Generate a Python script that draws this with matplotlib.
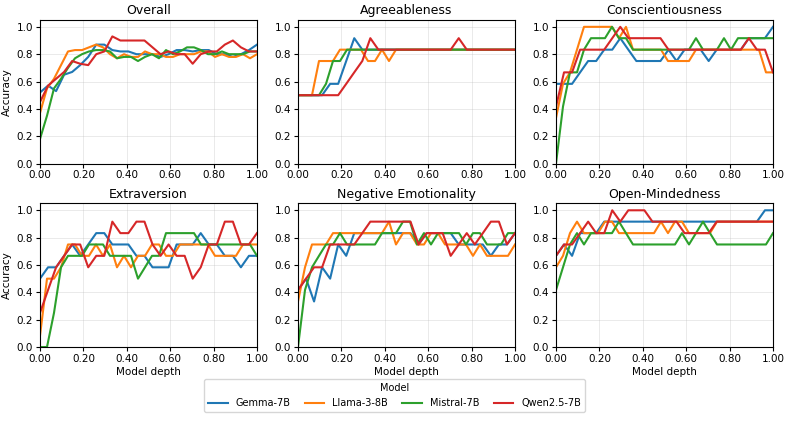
import numpy as np
import matplotlib
matplotlib.use("Agg")
import matplotlib.pyplot as plt

MODELS = ["Gemma-7B", "Llama-3-8B", "Mistral-7B", "Qwen2.5-7B"]
COLORS = ["#1f77b4", "#ff7f0e", "#2ca02c", "#d62728"]
N_LAYERS = {"Gemma-7B": 28, "Llama-3-8B": 32, "Mistral-7B": 32, "Qwen2.5-7B": 28}
TRAITS = ["Overall", "Agreeableness", "Conscientiousness",
          "Extraversion", "Negative Emotionality", "Open-Mindedness"]

a, b, c, d, e, f, g = 0.25, 0.333, 0.417, 0.5, 0.583, 0.667, 0.75
h, k, one = 0.833, 0.917, 1.0

overall_gemma = [0.52, 0.57, 0.53, 0.65, 0.67, 0.72, 0.78, 0.87, 0.87, 0.83, 0.82, 0.82, 0.80, 0.80,
                 0.80, 0.78, 0.80, 0.83, 0.83, 0.82, 0.83, 0.83, 0.80, 0.80, 0.78, 0.80, 0.83, 0.87]
overall_llama = [0.37, 0.55, 0.62, 0.72, 0.82, 0.83, 0.83, 0.85, 0.87, 0.85, 0.80, 0.77, 0.80, 0.78,
                 0.78, 0.82, 0.80, 0.80, 0.78, 0.78, 0.80, 0.80, 0.80, 0.82, 0.82, 0.78, 0.80, 0.78,
                 0.78, 0.80, 0.77, 0.80]
overall_mistral = [0.18, 0.35, 0.55, 0.62, 0.70, 0.77, 0.80, 0.82, 0.83, 0.83, 0.82, 0.77, 0.78, 0.78,
                   0.75, 0.78, 0.80, 0.77, 0.83, 0.80, 0.82, 0.85, 0.85, 0.83, 0.80, 0.80, 0.82, 0.80,
                   0.80, 0.80, 0.82, 0.82]
overall_qwen = [0.45, 0.57, 0.62, 0.67, 0.75, 0.73, 0.72, 0.80, 0.82, 0.93, 0.90, 0.90, 0.90, 0.90,
                0.85, 0.80, 0.82, 0.80, 0.80, 0.73, 0.80, 0.82, 0.82, 0.87, 0.90, 0.85, 0.82, 0.82]

agree_gemma = [d, d, d, d, e, e, g, k] + [h] * 20
agree_llama = [d, d, d, g, g, g, h, h, h, h, g, g, h, g] + [h] * 18
agree_mistral = [d, d, d, d, e, g, g] + [h] * 25
agree_qwen = [d, d, d, d, d, d, e, f, g, k] + [h] * 10 + [k] + [h] * 7

consc_gemma = [e, e, e, f, g, g, h, h, k, h, g, g, g, g, h, g, h, h, h, g, h, h, h, h, k, k, k, one]
consc_llama = [b, e, f, h, one, one, one, one, one, k, one, h, h, h, h, h, g, g, g, g,
               h, h, h, h, h, h, h, h, h, h, f, f]
consc_mistral = [0.0, c, f, f, h, k, k, k, one, k, k, h, h, h, h, h, h, h, h, h,
                 k, h, h, h, k, h, k, k, k, k, k, k]
consc_qwen = [c, f, f, h, h, h, h, k, one, k, k, k, k, k, h, h, h, h, h, h, h, h, h, h, k, h, h, f]

extra_gemma = [d, e, e, f, g, f, g, h, h, g, g, g, f, f, e, e, e, g, g, g, h, g, g, f, f, e, f, f]
extra_llama = [0.083, d, d, e, g, g, f, f, g, f, g, e, f, e, f, f, g, g, f, f,
               g, g, g, g, g, f, f, f, f, g, g, g]
extra_mistral = [0.0, 0.0, a, e, f, f, f, g, g, g, f, f, f, f, d, e, f, f, h, h,
                 h, h, h, g, g, g, g, g, g, g, g, f]
extra_qwen = [a, c, e, f, g, g, e, f, f, k, h, h, k, k, g, f, g, f, f, d, e, g, g, k, k, g, g, h]

neg_gemma = [c, d, b, e, d, g, f, h, h, h, h, h, h, h, h, g, h, h, h, h, g, g, g, g, f, g, g, h]
neg_llama = [b, e, g, g, g, h, h, h, h, h, h, h, h, k, g, h, h, g, g, h,
             h, g, g, g, g, f, g, f, f, f, f, g]
neg_mistral = [0.0, c, e, f, g, g, h, g, g, g, g, g, h, h, h, k, k, g, h, g,
               h, h, h, h, g, h, h, g, g, g, h, h]
neg_qwen = [c, d, e, e, g, g, g, g, h, k, k, k, k, k, k, g, h, h, h, f, g, h, g, h, k, k, g, h]

open_gemma = [f, g, f, h, h, h] + [k] * 20 + [one, one]
open_llama = [e, f, h, k, h, h, h, k, k, h, h, h, h, h, h, k, h, k, k, h,
              h, h, h] + [k] * 9
open_mistral = [c, e, g, h, g, h, h, h, h, k, h, g, g, g, g, g, g, g, h, g,
                h, k, h] + [g] * 8 + [h]
open_qwen = [f, g, g, h, k, h, h, one, k, one, one, one, k, k, k, k, h, h, h, h] + [k] * 8

DATA = {
    "Overall": [overall_gemma, overall_llama, overall_mistral, overall_qwen],
    "Agreeableness": [agree_gemma, agree_llama, agree_mistral, agree_qwen],
    "Conscientiousness": [consc_gemma, consc_llama, consc_mistral, consc_qwen],
    "Extraversion": [extra_gemma, extra_llama, extra_mistral, extra_qwen],
    "Negative Emotionality": [neg_gemma, neg_llama, neg_mistral, neg_qwen],
    "Open-Mindedness": [open_gemma, open_llama, open_mistral, open_qwen],
}

fig, axes = plt.subplots(2, 3, figsize=(7.89, 4.22), dpi=100)
fig.subplots_adjust(left=0.0507, right=0.9797, bottom=0.1777, top=0.9526,
                    wspace=0.189, hspace=0.278)

for idx, (ax, trait) in enumerate(zip(axes.flat, TRAITS)):
    for model, color, ys in zip(MODELS, COLORS, DATA[trait]):
        xs = np.arange(len(ys)) / (N_LAYERS[model] - 1)
        ax.plot(xs, ys, color=color, linewidth=1.5, label=model)
    ax.set_title(trait, fontsize=9, pad=4)
    ax.set_xlim(0, 1)
    ax.set_ylim(0, 1.05)
    ax.set_xticks([0, 0.2, 0.4, 0.6, 0.8, 1.0])
    ax.set_xticklabels([f"{t:.2f}" for t in [0, 0.2, 0.4, 0.6, 0.8, 1.0]])
    ax.set_yticks([0, 0.2, 0.4, 0.6, 0.8, 1.0])
    ax.set_yticklabels([f"{t:.1f}" for t in [0, 0.2, 0.4, 0.6, 0.8, 1.0]])
    ax.tick_params(labelsize=7.5, length=3, pad=2)
    ax.grid(True, alpha=0.3, linewidth=0.6)
    if idx % 3 == 0:
        ax.set_ylabel("Accuracy", fontsize=7.5, labelpad=3)
    if idx >= 3:
        ax.set_xlabel("Model depth", fontsize=7.5, labelpad=2)

handles, labels = axes[0, 0].get_legend_handles_labels()
fig.legend(handles, labels, loc="lower center", bbox_to_anchor=(0.5, 0.012),
           ncol=4, title="Model", fontsize=7, title_fontsize=7,
           frameon=True, columnspacing=1.5, handlelength=2.0)

fig.savefig("out.png", dpi=100)
